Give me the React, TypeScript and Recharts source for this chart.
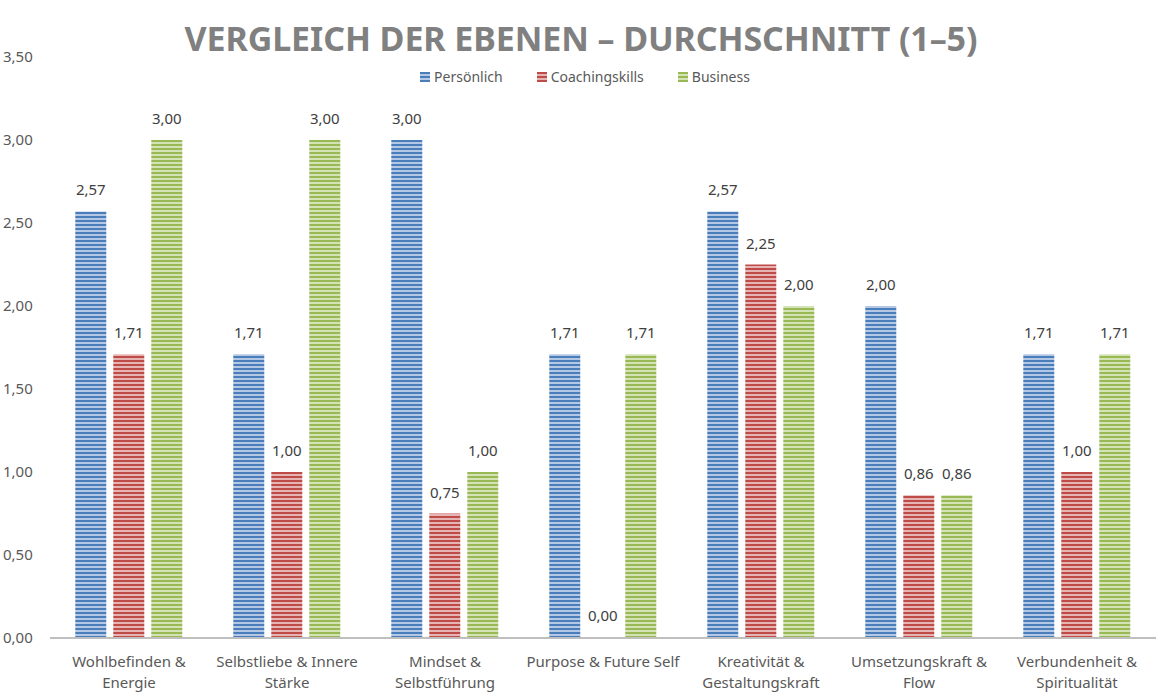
import React from 'react';
import { BarChart, Bar, XAxis, YAxis, LabelList } from 'recharts';

const categories = [
  'Wohlbefinden &\nEnergie',
  'Selbstliebe & Innere\nStärke',
  'Mindset &\nSelbstführung',
  'Purpose & Future Self',
  'Kreativität &\nGestaltungskraft',
  'Umsetzungskraft &\nFlow',
  'Verbundenheit &\nSpiritualität',
];
const persoenlich = [2.57, 1.71, 3.0, 1.71, 2.57, 2.0, 1.71];
const coachingskills = [1.71, 1.0, 0.75, 0.0, 2.25, 0.86, 1.0];
const business = [3.0, 3.0, 1.0, 1.71, 2.0, 0.86, 1.71];
const yTicks = [0, 0.5, 1, 1.5, 2, 2.5, 3, 3.5];

const seriesInfo = [
  { key: 'p', name: 'Persönlich', base: '#4a7ebb', light: '#b4c8e6' },
  { key: 'c', name: 'Coachingskills', base: '#be4b48', light: '#e6b4b3' },
  { key: 'b', name: 'Business', base: '#98b954', light: '#d4e3b6' },
];

const data = categories.map((name, i) => ({
  name,
  p: persoenlich[i],
  c: coachingskills[i],
  b: business[i],
}));

const FONT = '"Noto Sans", sans-serif';
const fmt = (v: number) => v.toFixed(2).replace('.', ',');

const XTick = ({ x, y, payload }: any) => {
  const lines = String(payload.value).split('\n');
  return (
    <text x={x} y={y} textAnchor="middle" fontFamily={FONT} fontSize={15} fill="#595959">
      {lines.map((l, i) => (
        <tspan key={i} x={x} dy={21}>{l}</tspan>
      ))}
    </text>
  );
};

const YTick = ({ y, payload }: any) => (
  <text x={3} y={y} dy={5} textAnchor="start" fontFamily={FONT} fontSize={15} fill="#595959">
    {fmt(payload.value)}
  </text>
);

const LegendBox = () => (
  <div
    style={{
      position: 'absolute',
      top: 67,
      left: 0,
      width: 1170,
      display: 'flex',
      justifyContent: 'center',
      fontFamily: FONT,
      fontSize: 14,
      color: '#595959',
    }}
  >
    {seriesInfo.map((s) => (
      <div key={s.key} style={{ display: 'flex', alignItems: 'center', margin: '0 17px' }}>
        <svg width={10} height={10} style={{ marginRight: 4 }}>
          <rect width={10} height={10} fill={`url(#pat-${s.key})`} />
        </svg>
        <span>{s.name}</span>
      </div>
    ))}
  </div>
);

export default function App() {
  return (
    <div style={{ position: 'absolute', left: 0, top: 0, width: 1170, height: 699, background: '#fff' }}>
      <BarChart
        width={1170}
        height={699}
        data={data}
        margin={{ top: 57, right: 14, bottom: 31, left: 0 }}
        barCategoryGap="16%"
        barGap={7}
      >
        <defs>
          {seriesInfo.map((s) => (
            <pattern key={s.key} id={`pat-${s.key}`} width={4} height={4} patternUnits="userSpaceOnUse">
              <rect width={4} height={4} fill={s.base} />
              <rect y={2} width={4} height={2} fill={s.light} />
            </pattern>
          ))}
        </defs>
        <XAxis
          dataKey="name"
          height={30}
          tick={<XTick />}
          tickLine={false}
          axisLine={{ stroke: '#bfbfbf', strokeWidth: 2 }}
          interval={0}
        />
        <YAxis
          width={50}
          domain={[0, 3.5]}
          ticks={yTicks}
          tick={<YTick />}
          tickLine={false}
          axisLine={false}
        />
        {seriesInfo.map((s) => (
          <Bar
            key={s.key}
            dataKey={s.key}
            name={s.name}
            fill={`url(#pat-${s.key})`}
            minPointSize={1}
            isAnimationActive={false}
          >
            <LabelList
              dataKey={s.key}
              position="top"
              offset={16}
              formatter={(v: any) => fmt(Number(v))}
              style={{ fontFamily: FONT, fontSize: 15, fill: '#404040' }}
            />
          </Bar>
        ))}
      </BarChart>
      <svg width={1170} height={70} style={{ position: 'absolute', left: 0, top: 0 }}>
        <text
          x={581}
          y={51}
          textAnchor="middle"
          fontFamily={FONT}
          fontWeight="bold"
          fontSize={34}
          fill="#808080"
          textLength={793}
          lengthAdjust="spacing"
        >
          VERGLEICH DER EBENEN – DURCHSCHNITT (1–5)
        </text>
      </svg>
      <LegendBox />
    </div>
  );
}
